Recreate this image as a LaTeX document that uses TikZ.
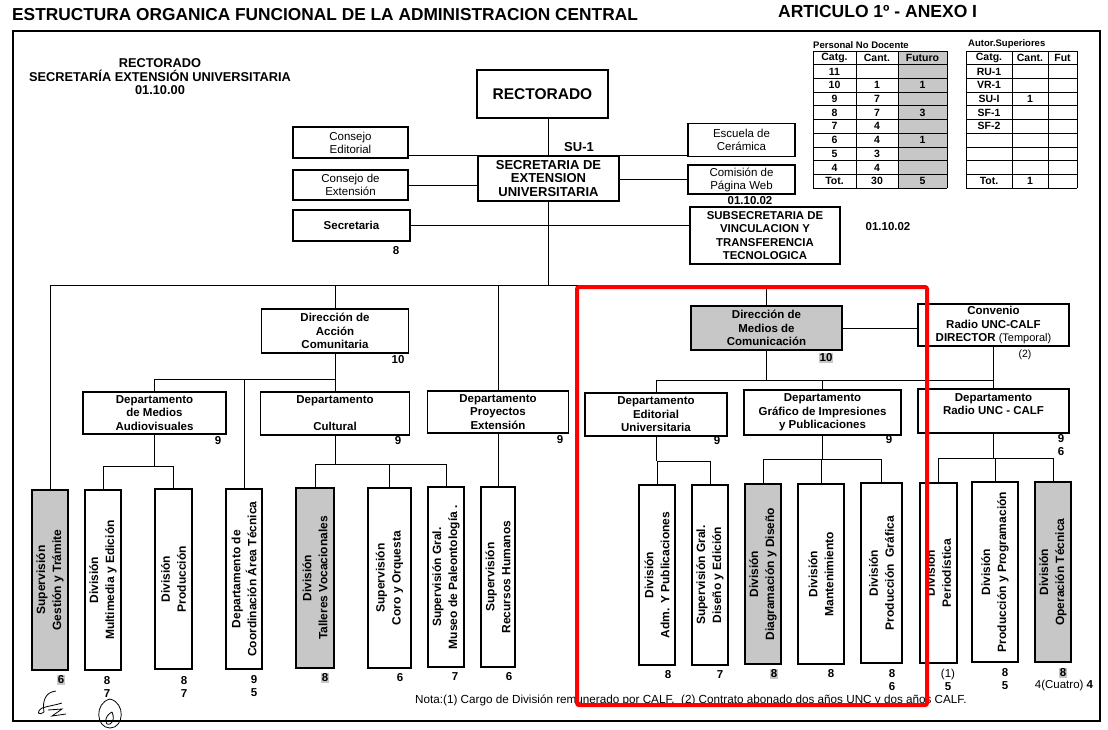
\documentclass[tikz,border=0pt]{standalone}
\usepackage{fontspec}
\setmainfont{Liberation Sans}
\usetikzlibrary{positioning}

\tikzset{
  box/.style={draw, line width=1.3pt, inner sep=1pt, align=center,
    font=\bfseries\fontsize{11.5}{13.5}\selectfont},
  lbox/.style={box, font=\fontsize{11.5}{13}\selectfont},
  vbox/.style={box, rotate=90, minimum width=180, minimum height=36,
    font=\bfseries\fontsize{12}{16}\selectfont},
  dotfill/.style={fill=black!22},
  num/.style={inner sep=0pt, font=\bfseries\fontsize{11.5}{12}\selectfont},
  num2/.style={num, align=center, font=\bfseries\fontsize{11.5}{13.5}\selectfont},
  link/.style={line width=0.8pt},
  tcell/.style={inner sep=0pt, font=\bfseries\fontsize{10.5}{11}\selectfont},
  grid/.style={line width=0.8pt}
}

\begin{document}
\begin{tikzpicture}[x=1pt, y=-1pt]
  \useasboundingbox (0,0) rectangle (1108,729);

  % frame and headings
  \draw[line width=1.6pt] (13,31) -- (1100,31) -- (1100,721) -- (13,721) -- cycle;
  \node[anchor=west, inner sep=0, font=\bfseries\fontsize{17.3}{18}\selectfont] (title) at (12,15)
    {ESTRUCTURA ORGANICA FUNCIONAL DE LA ADMINISTRACION CENTRAL};
  \node[anchor=west, inner sep=0, font=\bfseries\fontsize{17.5}{18}\selectfont] (art) at (778,11)
    {ARTICULO 1º - ANEXO I};
  \node[align=center, inner sep=0, font=\bfseries\fontsize{12.8}{13.5}\selectfont] (head) at (160,77)
    {RECTORADO\\SECRETARÍA EXTENSIÓN UNIVERSITARIA\\01.10.00};

  % tables
  \fill[black!22] (898,51) rectangle (947,188);
  \foreach \k in {0,...,10} {
    \draw[grid] (813,{51+13.7*\k}) -- (947,{51+13.7*\k});
    \draw[grid] (966,{51+13.7*\k}) -- (1077,{51+13.7*\k});
  }
  \foreach \xx in {813,856,898,947,966,1012,1048,1077}
    \draw[grid] (\xx,51) -- (\xx,188);
  \node[tcell, anchor=south west, font=\bfseries\fontsize{9.5}{10}\selectfont] (pnd) at (813,49) {Personal No Docente};
  \node[tcell, anchor=south west, font=\bfseries\fontsize{9.5}{10}\selectfont] (aus) at (968,49) {Autor.Superiores};
  \foreach \r/\a/\b/\c in {0/Catg./Cant./Futuro, 1/11//, 2/10/1/1, 3/9/7/, 4/8/7/3,
      5/7/4/, 6/6/4/1, 7/5/3/, 8/4/4/, 9/Tot./30/5} {
    \node[tcell] (pa\r) at (834.5,{51+13.7*(\r+0.5)}) {\a};
    \node[tcell] (pb\r) at (877,{51+13.7*(\r+0.5)}) {\b};
    \node[tcell] (pc\r) at (922.5,{51+13.7*(\r+0.5)}) {\c};
  }
  \foreach \r/\a/\b/\c in {0/Catg./Cant./Fut, 1/RU-1//, 2/VR-1//, 3/SU-I/1/, 4/SF-1//,
      5/SF-2//, 6///, 7///, 8///, 9/Tot./1/} {
    \node[tcell] (aa\r) at (989,{51+13.7*(\r+0.5)}) {\a};
    \node[tcell] (ab\r) at (1030,{51+13.7*(\r+0.5)}) {\b};
    \node[tcell] (ac\r) at (1062.5,{51+13.7*(\r+0.5)}) {\c};
  }

  % upper part
  \node[box, minimum width=131, minimum height=48, font=\bfseries\fontsize{15.5}{16}\selectfont] (rect) at (542.5,94) {RECTORADO};
  \node[box, minimum width=141, minimum height=45, font=\bfseries\fontsize{13}{13.5}\selectfont] (secext) at (548.5,178.5)
    {SECRETARIA DE\\EXTENSION\\UNIVERSITARIA};
  \node[num, font=\bfseries\fontsize{13}{13}\selectfont] (su) at (579,147) {SU-1};
  \node[lbox, minimum width=115, minimum height=31] (ced) at (350.5,142.5) {Consejo\\Editorial};
  \node[lbox, minimum width=115, minimum height=30] (cde) at (350.5,185) {Consejo de\\Extensión};
  \node[box, minimum width=117, minimum height=31] (sria) at (351.5,225.5) {Secretaria};
  \node[num] (n-sria) at (396,251) {8};
  \node[lbox, minimum width=107, minimum height=33] (esc) at (741.5,140) {Escuela de\\Cerámica};
  \node[lbox, minimum width=107, minimum height=29] (cpw) at (741.5,179.5) {Comisión de\\Página Web};
  \node[num] (c-cpw) at (750,201) {01.10.02};
  \node[box, minimum width=150, minimum height=57, font=\bfseries\fontsize{11.4}{13.3}\selectfont] (subsec) at (765,235.5)
    {SUBSECRETARIA DE\\VINCULACION Y\\TRANSFERENCIA\\TECNOLOGICA};
  \node[num] (c-subsec) at (888,227) {01.10.02};

  \draw[link] (secext.north) -- (secext.north |- rect.south);
  \draw[link] (ced.east |- secext.north) -- (secext.north west);
  \draw[link] (secext.north east) -- (esc.west |- secext.north);
  \draw[link] (cde.east) -- (cde.east -| secext.west);
  \draw[link] (cpw.west) -- (cpw.west -| secext.east);
  \draw[link] (sria.east) -- (sria.east -| subsec.west);

  % direcciones
  \node[box, minimum width=147, minimum height=44] (dac) at (335,331) {Dirección de\\Acción\\Comunitaria};
  \node[num] (n-dac) at (398,360) {10};
  \node[box, dotfill, minimum width=151, minimum height=44] (dmc) at (766.5,328) {Dirección de\\Medios de\\Comunicación};
  \node[num, dotfill, inner sep=1pt] (n-dmc) at (826,358) {10};
  \node[box, minimum width=151, minimum height=42] (conv) at (993.5,325)
    {Convenio\\Radio UNC-CALF\\DIRECTOR {\mdseries\fontsize{11}{11}\selectfont(Temporal)}};
  \node[num, font=\fontsize{10.5}{11}\selectfont] (n-conv) at (1025,355) {(2)};

  % departamentos
  \node[box, minimum width=143, minimum height=42] (dma) at (154.5,413) {Departamento\\de Medios\\Audiovisuales};
  \node[box, minimum width=149, minimum height=43] (cul) at (335,413.5) {Departamento\\[13.5pt]Cultural};
  \node[box, minimum width=141, minimum height=42] (pex) at (498,412) {Departamento\\Proyectos\\Extensión};
  \node[box, minimum width=142, minimum height=43] (ded) at (656,414.5) {Departamento\\Editorial\\Universitaria};
  \node[box, minimum width=157, minimum height=45] (dgi) at (822.5,412.5) {Departamento\\Gráfico de Impresiones\\y Publicaciones};
  \node[box, minimum width=151, minimum height=44] (drad) at (993.5,411) {Departamento\\Radio UNC - CALF\\\mbox{}};
  \node[num] (n-dma) at (218,441) {9};
  \node[num] (n-cul) at (398,441) {9};
  \node[num] (n-pex) at (560,440) {9};
  \node[num] (n-ded) at (717,441) {9};
  \node[num] (n-dgi) at (889,440) {9};
  \node[num2] (n-drad) at (1061,445) {9\\6};

  % divisiones y supervisiones
  \node[vbox, dotfill] (v1) at (50,580) {Supervisión\\Gestión y Trámite};
  \node[vbox] (v2) at (103,580) {División\\Multimedia y Edición};
  \node[vbox, minimum height=37] (v3) at (173.5,579) {División\\Producción};
  \node[vbox] (v4) at (244,579) {Departamento de\\Coordinación Área Técnica};
  \node[vbox, dotfill, minimum height=38] (v5) at (315,578) {División\\Talleres Vocacionales};
  \node[vbox, minimum height=43] (v6) at (389.5,578) {Supervisión\\Coro y Orquesta};
  \node[vbox] (v7) at (446,577) {Supervisión Gral.\\Museo de Paleontología .};
  \node[vbox, minimum height=34] (v8) at (498,577) {Supervisión\\Recursos Humanos};
  \node[vbox] (v9) at (657,575) {División\\Adm. Y Publicaciones};
  \node[vbox] (v10) at (710,575) {Supervisión Gral.\\Diseño y Edición};
  \node[vbox, dotfill] (v11) at (763,574) {División\\Diagramación y Diseño};
  \node[vbox, minimum height=46] (v12) at (821,574) {División\\Mantenimiento};
  \node[vbox, minimum height=41] (v13) at (881.5,573) {División\\Producción\ \ Gráfica};
  \node[vbox, minimum height=37] (v14) at (938.5,573) {División\\Periodística};
  \node[vbox, minimum height=46] (v15) at (995,572) {División\\Producción y Programación};
  \node[vbox, dotfill] (v16) at (1053,572) {División\\Operación Técnica};

  \node[num, dotfill, inner sep=1pt] (m1) at (61,680) {6};
  \node[num2] (m2) at (107,687) {8\\7};
  \node[num2] (m3) at (184,687) {8\\7};
  \node[num2] (m4) at (254,686) {9\\5};
  \node[num, dotfill, inner sep=1pt] (m5) at (325,678) {8};
  \node[num] (m6) at (400,678) {6};
  \node[num] (m7) at (455,677) {7};
  \node[num] (m8) at (509,677) {6};
  \node[num] (m9) at (668,675) {8};
  \node[num] (m10) at (720,675) {7};
  \node[num, dotfill, inner sep=1pt] (m11) at (774,674) {8};
  \node[num] (m12) at (831,674) {8};
  \node[num2] (m13) at (892,680) {8\\6};
  \node[num2] (m14) at (948,680) {{\mdseries(1)}\\5};
  \node[num2] (m15) at (1005,679) {8\\5};
  \node[num, dotfill, inner sep=1pt] (m16) at (1063,673) {8};
  \node[num] (m16b) at (1064,686) {{\mdseries 4(Cuatro)} 4};

  % connectors
  \coordinate (bus) at (0,285);
  \draw[link] (secext.south) -- (secext.south |- bus);
  \draw[link] (v1.east) |- (dmc.north |- bus) -- (dmc.north);
  \draw[link] (dac.north) -- (dac.north |- bus);
  \draw[link] (pex.north) -- (pex.north |- bus);

  \coordinate (bus-dac) at (0,379);
  \draw[link] (dac.south) -- (cul.north);
  \draw[link] (dma.north) |- (cul.north |- bus-dac);
  \draw[link] (v4.east) -- (v4.east |- bus-dac);

  \coordinate (bus-dma) at (0,466);
  \draw[link] (dma.south) -- (dma.south |- bus-dma);
  \draw[link] (v2.east) |- (v3.east |- bus-dma) -- (v3.east);

  \coordinate (bus-cul) at (0,464);
  \draw[link] (cul.south) -- (cul.south |- bus-cul);
  \draw[link] (v5.east) |- (v7.east |- bus-cul) -- (v7.east);
  \draw[link] (v6.east) -- (v6.east |- bus-cul);

  \draw[link] (pex.south) -- (v8.east);

  \coordinate (bus-dmc) at (0,380);
  \draw[link] (dmc.south) -- (dmc.south |- bus-dmc);
  \draw[link] (ded.north) |- (drad.north |- bus-dmc);
  \draw[link] (dgi.north) -- (dgi.north |- bus-dmc);
  \draw[link] (conv.south) -- (drad.north);
  \draw[link] (dmc.east) -- (dmc.east -| conv.west);

  \coordinate (bus-ded) at (0,461);
  \draw[link] (ded.south) -- (ded.south |- bus-ded);
  \draw[link] (v9.east) |- (v10.east |- bus-ded) -- (v10.east);

  \coordinate (bus-dgi) at (0,459);
  \draw[link] (dgi.south) -- (dgi.south |- bus-dgi);
  \draw[link] (v11.east) |- (v13.east |- bus-dgi) -- (v13.east);
  \draw[link] (v12.east) -- (v12.east |- bus-dgi);

  \coordinate (bus-drad) at (0,458);
  \draw[link] (drad.south) -- (drad.south |- bus-drad);
  \draw[link] (v14.east) |- (v16.east |- bus-drad) -- (v16.east);
  \draw[link] (v15.east) -- (v15.east |- bus-drad);

  % note and signatures
  \node[anchor=west, inner sep=0, font=\fontsize{11.7}{12}\selectfont] (nota) at (415,700)
    {Nota:(1) Cargo de División remunerado por CALF.\ \ (2) Contrato abonado dos años UNC y dos años CALF.};
  \draw[line width=0.8pt] (56,691) .. controls (46,692) and (42,700) .. (44,712)
    .. controls (38,716) and (36,712) .. (42,708) .. controls (48,706) and (56,705) .. (62,703);
  \draw[line width=0.8pt] (48,710) -- (62,709) -- (52,716) -- (66,714);
  \draw[line width=0.8pt] (110,699) .. controls (94,703) and (96,728) .. (110,728)
    .. controls (124,728) and (126,703) .. (110,699);
  \draw[line width=0.8pt] (112,712) .. controls (104,716) and (104,726) .. (110,724)
    .. controls (114,722) and (114,716) .. (112,712);

  % highlight
  \draw[red, line width=4pt, rounded corners=2pt] (577,287) rectangle (927,705);
\end{tikzpicture}
\end{document}
